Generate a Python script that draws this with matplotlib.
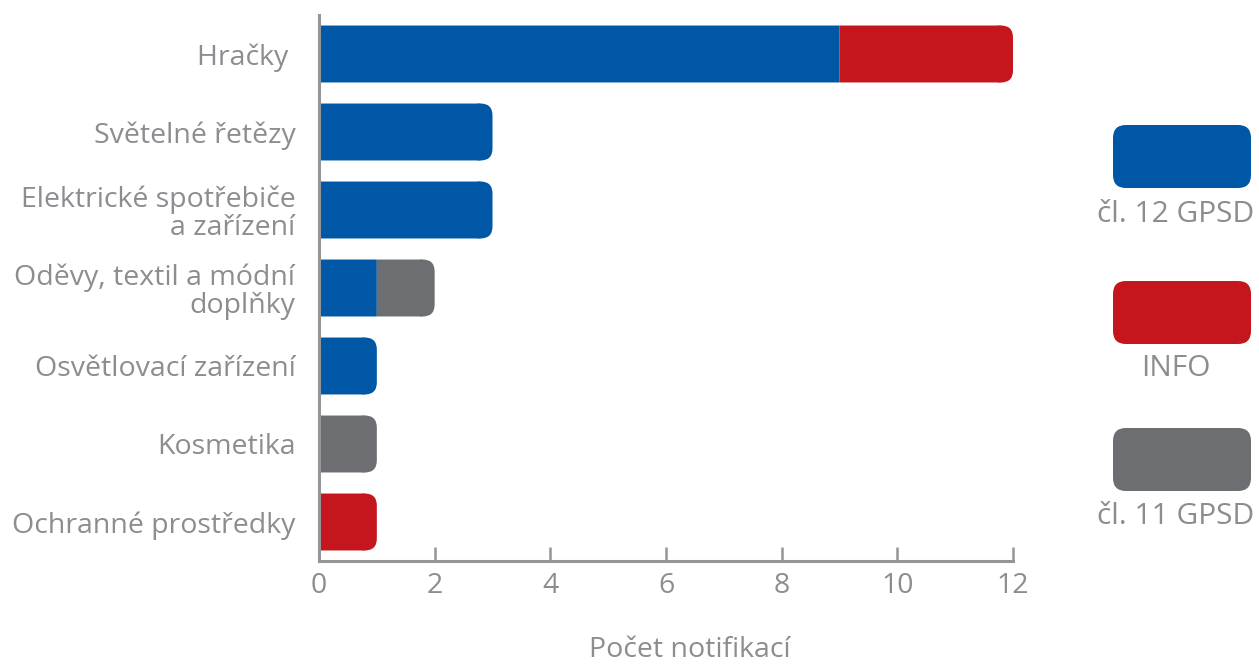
import matplotlib
matplotlib.use("Agg")
import matplotlib.pyplot as plt
from matplotlib.patches import FancyBboxPatch

plt.rcParams['font.family'] = ['Open Sans', 'DejaVu Sans']

# data
categories = ["Hračky ", "Světelné řetězy", "Elektrické spotřebiče\na zařízení",
              "Oděvy, textil a módní\ndoplňky", "Osvětlovací zařízení",
              "Kosmetika", "Ochranné prostředky"]
cl12 = [9, 3, 3, 1, 1, 0, 0]
info = [3, 0, 0, 0, 0, 0, 1]
cl11 = [0, 0, 0, 1, 0, 1, 0]
series_names = ["čl. 12 GPSD", "INFO", "čl. 11 GPSD"]
series_vals = [cl12, info, cl11]
colors = ["#0057a6", "#c4161c", "#6d6e71"]
xticks = [0, 2, 4, 6, 8, 10, 12]

txt = "#8b8d90"
axc = "#939598"
fs = 20.5

W, H = 1259, 666
fig = plt.figure(figsize=(W / 100, H / 100), dpi=100)
ax = fig.add_axes([319 / W, 1 - 561 / H, (1013 - 319) / W, (561 - 15) / H])
ax.set_xlim(0, 12)
ax.set_ylim(6.5, -0.5)

# corner radius in data units
rpx = 12
pxx = (1013 - 319) / 12.0
pxy = (561 - 15) / 7.0
rx = rpx / pxx
ry = rpx / pxy
bh = 0.73

for i in range(len(categories)):
    vals = [s[i] for s in series_vals]
    last = max(k for k, v in enumerate(vals) if v > 0)
    left = 0
    for k, v in enumerate(vals):
        if v == 0:
            continue
        if k == last:
            ax.barh(i, v - rx, left=left, height=bh, color=colors[k],
                    linewidth=0, snap=False)
            ax.add_patch(FancyBboxPatch((left + v - 2 * rx, i - bh / 2), 2 * rx, bh,
                                        boxstyle="round,pad=0,rounding_size=%f" % rx,
                                        mutation_aspect=ry / rx, snap=False,
                                        facecolor=colors[k], linewidth=0))
        else:
            ax.barh(i, v, left=left, height=bh, color=colors[k],
                    linewidth=0, snap=False)
        left += v

for s in ["top", "right"]:
    ax.spines[s].set_visible(False)
for s in ["left", "bottom"]:
    ax.spines[s].set_color(axc)
    ax.spines[s].set_linewidth(2.2)

ax.set_yticks(range(len(categories)))
ax.set_yticklabels(categories, fontsize=fs, color=txt, linespacing=1.0)
ax.tick_params(axis="y", length=0, pad=17)
ax.set_xticks(xticks)
ax.set_xticklabels([str(t) for t in xticks], fontsize=fs, color=txt)
ax.tick_params(axis="x", direction="in", length=10, width=1.8, color=axc, pad=8)
ax.set_xlabel("Počet notifikací", fontsize=fs, color=txt)
ax.xaxis.set_label_coords((690 - 319) / 694.0, -(650 - 561) / 546.0)
ax.xaxis.label.set_va("center")

# legend
lax = fig.add_axes([0, 0, 1, 1])
lax.set_xlim(0, W)
lax.set_ylim(H, 0)
lax.axis("off")
for k, (name, yb, yl) in enumerate(zip(series_names, [125, 281, 428], [214, 369, 516])):
    lax.add_patch(FancyBboxPatch((1113, yb), 138, 63,
                                 boxstyle="round,pad=0,rounding_size=13",
                                 facecolor=colors[k], linewidth=0))
    lax.text(1176, yl, name, ha="center", va="center", fontsize=21.5, color=txt)

fig.savefig("out.png", dpi=100)
